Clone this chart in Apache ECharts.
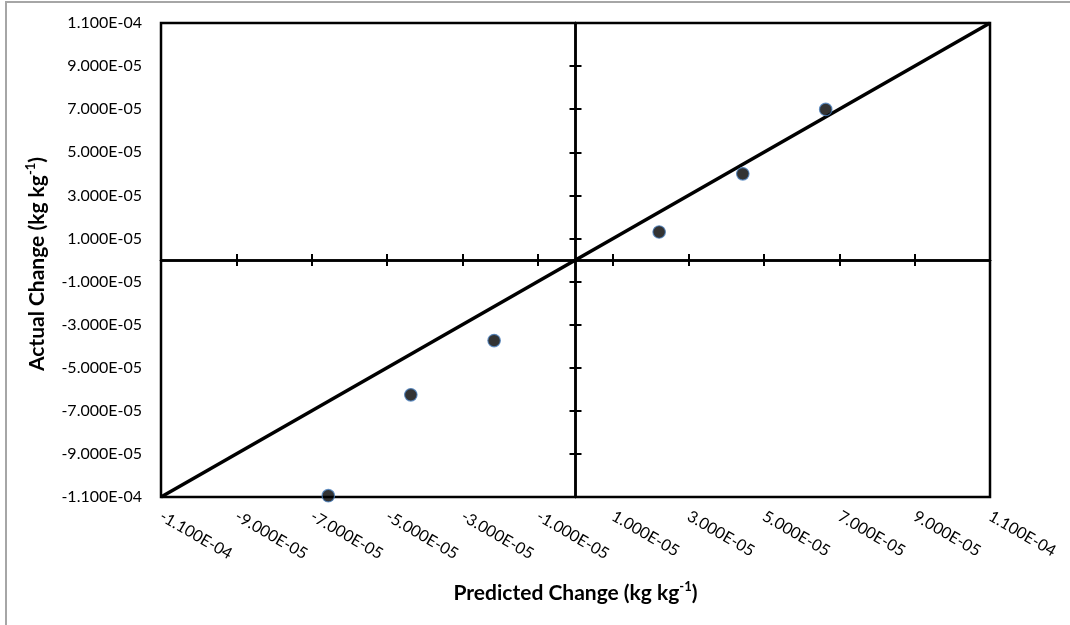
<!DOCTYPE html>
<html>
<head>
<meta charset="utf-8">
<script src="https://cdn.jsdelivr.net/npm/echarts@6/dist/echarts.min.js"></script>
<style>
    body { margin: 0; background: #fff; }
    #chart { position: absolute; left: 0; top: 0; width: 1070px; height: 625px; }
    #frame { position: absolute; left: 5px; top: 1px; right: 0; bottom: 0; border-left: 2px solid #a6a6a6; border-top: 2px solid #a6a6a6; pointer-events: none; }
</style>
</head>
<body>
<div id="chart"></div>
<div id="frame"></div>
<script>
var tickValues = [-1.1e-4, -9e-5, -7e-5, -5e-5, -3e-5, -1e-5, 1e-5, 3e-5, 5e-5, 7e-5, 9e-5, 1.1e-4];
var predicted = [-6.56e-5, -4.37e-5, -2.16e-5, 2.22e-5, 4.44e-5, 6.64e-5];
var actual = [-1.094e-4, -6.26e-5, -3.74e-5, 1.30e-5, 4.00e-5, 6.99e-5];
var fitX = [-1.1e-4, 1.1e-4];
var fitY = [-1.1e-4, 1.1e-4];

var fontName = "Lato";

function fmtSci(v) {
    var parts = v.toExponential(3).toUpperCase().split("E");
    var exp = parseInt(parts[1], 10);
    var e = Math.abs(exp);
    return parts[0] + "E" + (exp < 0 ? "-" : "+") + (e < 10 ? "0" + e : "" + e);
}

function lineAxis(dim, inside) {
    var axis = {
        type: "value",
        min: -1.1e-4,
        max: 1.1e-4,
        position: dim == "x" ? "bottom" : "left",
        axisLine: {show: true, onZero: true, onZeroAxisIndex: 0, lineStyle: {color: "#000", width: 2.5}},
        axisTick: {show: true, inside: inside, length: 6, customValues: tickValues, lineStyle: {color: "#000", width: 2}},
        axisLabel: {show: false},
        splitLine: {show: false}
    };
    return axis;
}

var titleRich = {
    sup: {fontSize: 13, fontWeight: "bold", fontFamily: fontName, color: "#000", verticalAlign: "top", lineHeight: 26}
};

var option = {
    animation: false,
    backgroundColor: "#fff",
    grid: {left: 161, right: 80, top: 23, bottom: 128, show: true, borderColor: "#000", borderWidth: 2.5, outerBoundsMode: "none"},
    xAxis: [
        lineAxis("x", false),
        lineAxis("x", true),
        {
            type: "value",
            min: -1.1e-4,
            max: 1.1e-4,
            position: "bottom",
            axisLine: {show: false, onZero: false},
            axisTick: {show: false},
            splitLine: {show: false},
            axisLabel: {
                show: true, customValues: tickValues, rotate: -30, margin: 18,
                fontFamily: fontName, fontSize: 16, color: "#000",
                formatter: fmtSci
            },
            name: "Predicted Change (kg kg{sup|-1})",
            nameLocation: "middle",
            nameGap: 83,
            nameTextStyle: {fontFamily: fontName, fontSize: 21, fontWeight: "bold", color: "#000", lineHeight: 26, rich: titleRich}
        }
    ],
    yAxis: [
        lineAxis("y", false),
        lineAxis("y", true),
        {
            type: "value",
            min: -1.1e-4,
            max: 1.1e-4,
            position: "left",
            axisLine: {show: false, onZero: false},
            axisTick: {show: false},
            splitLine: {show: false},
            axisLabel: {
                show: true, customValues: tickValues, margin: 19,
                fontFamily: fontName, fontSize: 16, color: "#000",
                formatter: fmtSci
            },
            name: "Actual Change (kg kg{sup|-1})",
            nameLocation: "middle",
            nameGap: 97,
            nameTextStyle: {fontFamily: fontName, fontSize: 21, fontWeight: "bold", color: "#000", lineHeight: 26, padding: [0, 8, 0, 0], rich: titleRich}
        }
    ],
    series: [
        {
            type: "line",
            data: fitX.map(function (x, i) { return [x, fitY[i]]; }),
            showSymbol: false,
            lineStyle: {color: "#000", width: 3.5},
            z: 3
        },
        {
            type: "scatter",
            data: predicted.map(function (x, i) { return [x, actual[i]]; }),
            symbol: "circle",
            symbolSize: 12.5,
            itemStyle: {color: "#000", borderColor: "#4a7ebb", borderWidth: 1.2},
            z: 4
        }
    ]
};

var chart = echarts.init(document.getElementById("chart"));
chart.setOption(option);
</script>
</body>
</html>
